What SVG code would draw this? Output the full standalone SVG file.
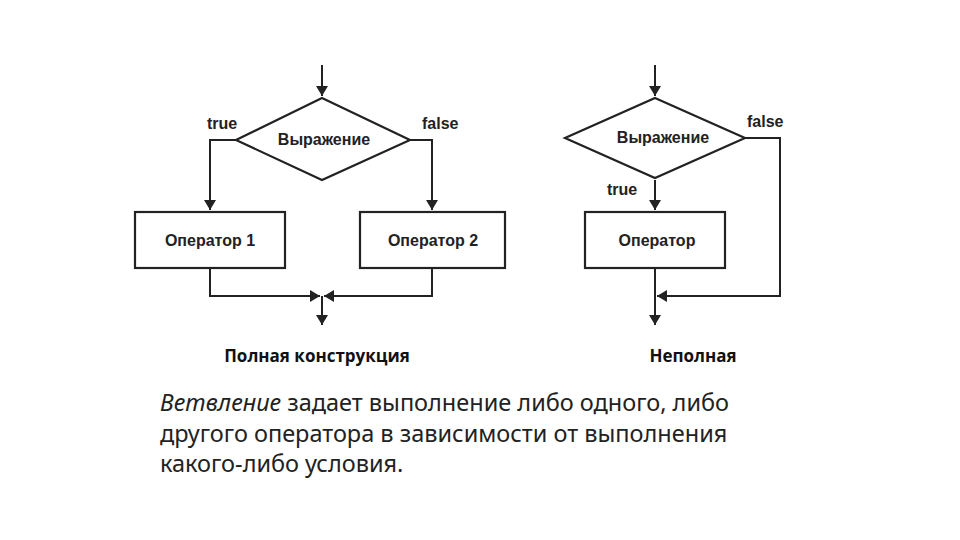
<svg xmlns="http://www.w3.org/2000/svg" width="960" height="540" viewBox="0 0 960 540">
<style>
.s{fill:none;stroke:#222;stroke-width:2}
.b{fill:#fff;stroke:#222;stroke-width:2.2}
.t{font-family:"Liberation Sans",Arial,sans-serif;font-size:16px;font-weight:bold;fill:#222}
.c{font-family:"Open Sans","Noto Sans",sans-serif;font-size:17px;font-weight:bold;fill:#111}
.p{font-family:"Noto Sans","Open Sans",sans-serif;font-size:23.5px;fill:#222}
</style>
<defs><marker id="a" markerWidth="10" markerHeight="12" refX="10" refY="6" orient="auto" markerUnits="userSpaceOnUse"><path d="M0,0L10,6L0,12z" fill="#222"/></marker></defs>
<rect width="960" height="540" fill="#fff"/>
<g id="connectors">
<path class="s" d="M322,65V96" marker-end="url(#a)"/>
<path class="s" d="M236,140H210V210" marker-end="url(#a)"/>
<path class="s" d="M409,140H432V210" marker-end="url(#a)"/>
<path class="s" d="M210,268V296H320" marker-end="url(#a)"/>
<path class="s" d="M432,268V296H324" marker-end="url(#a)"/>
<path class="s" d="M322,296V325" marker-end="url(#a)"/>
<path class="s" d="M655,65V96" marker-end="url(#a)"/>
<path class="s" d="M655,180V210" marker-end="url(#a)"/>
<path class="s" d="M744,138H780V296H657" marker-end="url(#a)"/>
<path class="s" d="M655,268V325" marker-end="url(#a)"/>
</g>
<g id="cond1"><path class="b" d="M322,98L410,140L322,180L236,140z"/><text class="t" x="324" y="145" text-anchor="middle">Выражение</text></g>
<g id="op1"><rect class="b" x="135" y="212" width="150" height="56"/><text class="t" x="210" y="246" text-anchor="middle">Оператор 1</text></g>
<g id="op2"><rect class="b" x="360" y="212" width="145" height="56"/><text class="t" x="433" y="246" text-anchor="middle">Оператор 2</text></g>
<g id="cond2"><path class="b" d="M655,98L745,138L655,178L565,138z"/><text class="t" x="663" y="143" text-anchor="middle">Выражение</text></g>
<g id="op3"><rect class="b" x="585" y="212" width="140" height="56"/><text class="t" x="657" y="246" text-anchor="middle">Оператор</text></g>
<g id="labels">
<text class="t" x="207" y="129">true</text>
<text class="t" x="422" y="129">false</text>
<text class="t" x="747" y="127">false</text>
<text class="t" x="607" y="195">true</text>
<text class="c" x="317" y="362" text-anchor="middle">Полная конструкция</text>
<text class="c" x="693" y="362" text-anchor="middle">Неполная</text>
<text class="p" x="160" y="411"><tspan font-style="italic">Ветвление</tspan> задает выполнение либо одного, либо</text>
<text class="p" x="160" y="442">другого оператора в зависимости от выполнения</text>
<text class="p" x="160" y="472">какого-либо условия.</text>
</g>
</svg>
